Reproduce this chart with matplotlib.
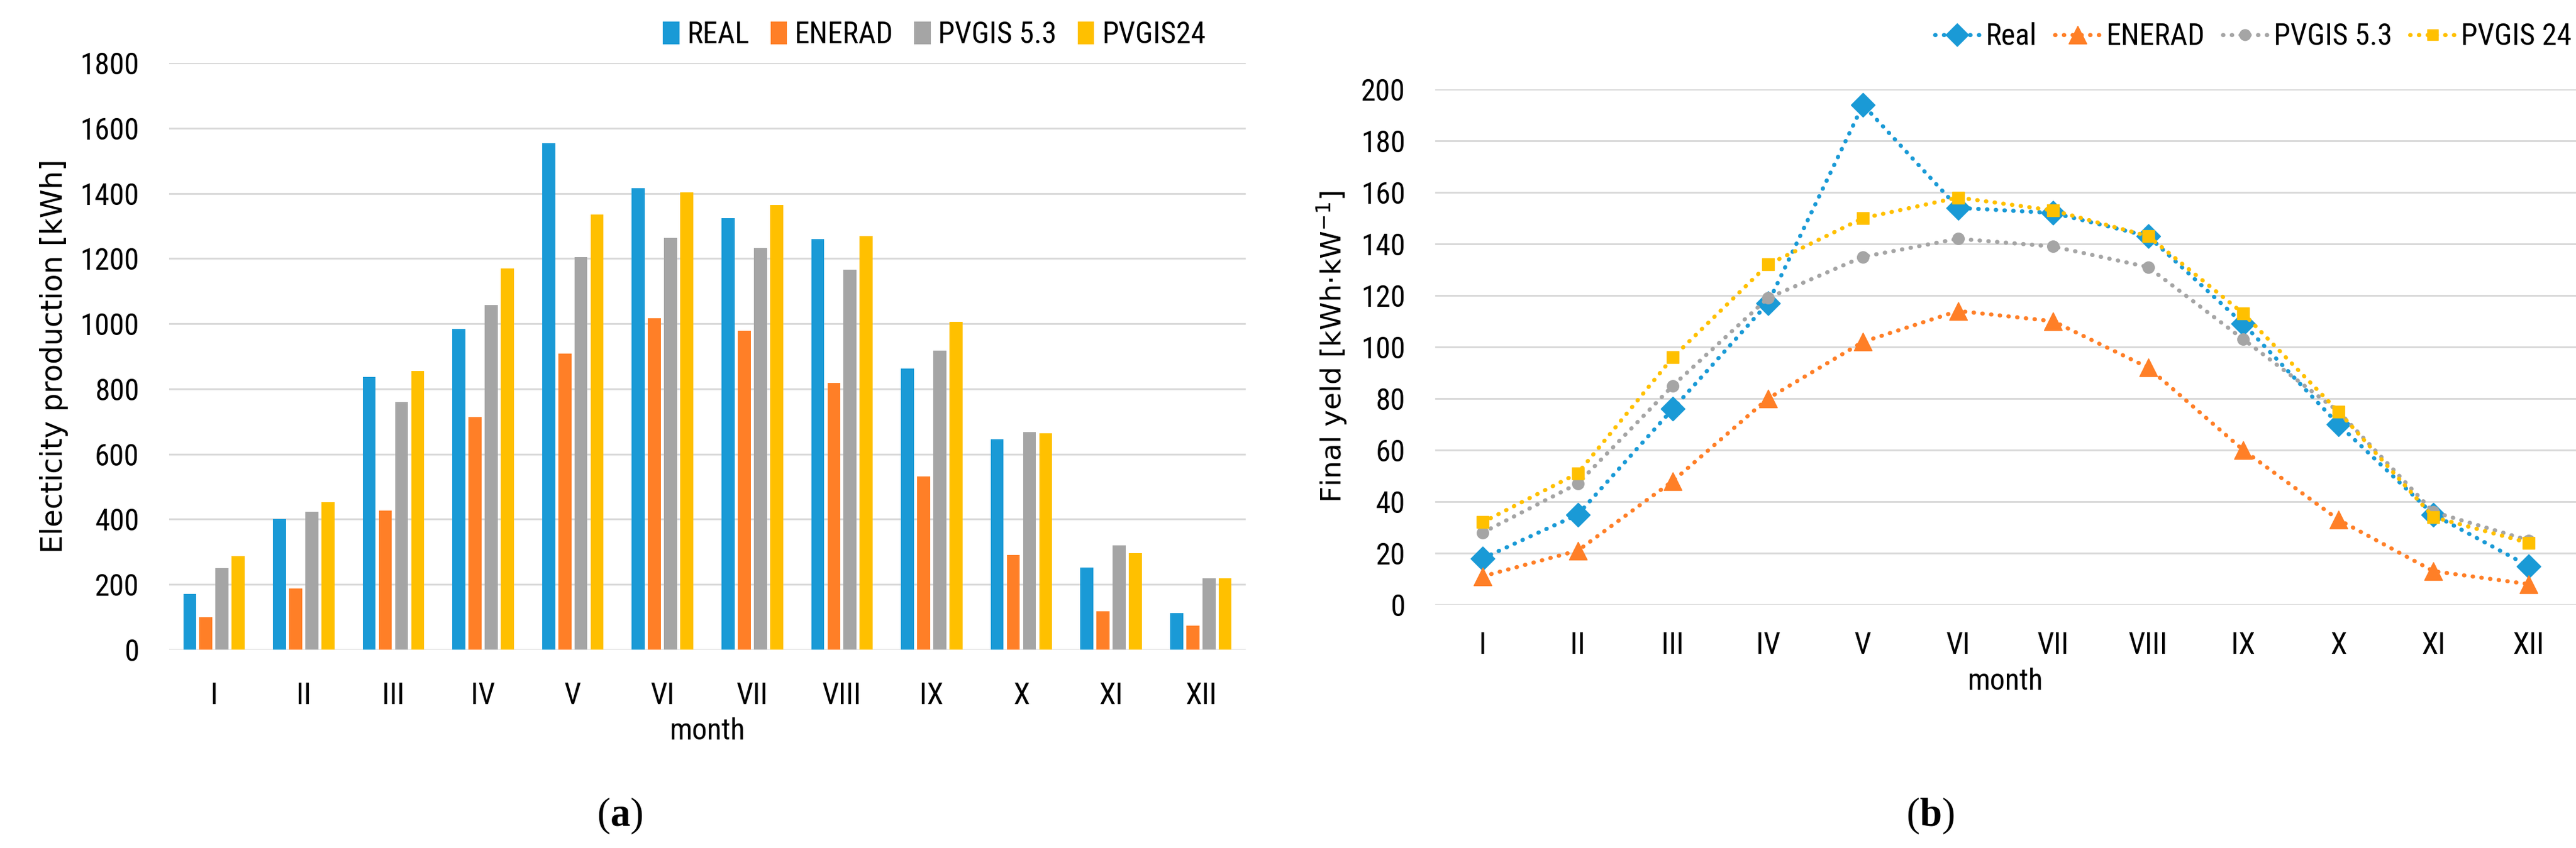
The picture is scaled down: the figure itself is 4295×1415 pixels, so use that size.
import numpy as np
import matplotlib
matplotlib.use('Agg')
import matplotlib.pyplot as plt
from matplotlib import font_manager

months = ['I', 'II', 'III', 'IV', 'V', 'VI', 'VII', 'VIII', 'IX', 'X', 'XI', 'XII']

# (a) electricity production [kWh]
prod_real = [171, 401, 836, 984, 1553, 1415, 1323, 1259, 863, 645, 252, 112]
prod_enerad = [99, 188, 426, 714, 908, 1017, 979, 819, 531, 290, 118, 74]
prod_pvgis53 = [250, 423, 759, 1058, 1204, 1264, 1232, 1165, 918, 668, 319, 218]
prod_pvgis24 = [287, 452, 855, 1170, 1335, 1402, 1365, 1268, 1006, 663, 296, 218]

# (b) final yield [kWh/kW]
yield_real = [18, 35, 76, 117, 194, 154, 152, 143, 109, 70, 35, 15]
yield_enerad = [11, 21, 48, 80, 102, 114, 110, 92, 60, 33, 13, 8]
yield_pvgis53 = [28, 47, 85, 119, 135, 142, 139, 131, 103, 75, 36, 25]
yield_pvgis24 = [32, 51, 96, 132, 150, 158, 153, 143, 113, 75, 34, 24]

BLUE = '#1A9AD6'
ORANGE = '#FF7F27'
GRAY = '#A5A5A5'
GOLD = '#FFC000'
GRID = '#D9D9D9'

# try a condensed face first (the original looks like squeezed Calibri)
names = set(f.name for f in font_manager.fontManager.ttflist)
NARROW = 'Liberation Sans'
for cand in ['Liberation Sans Narrow', 'Roboto Condensed', 'Open Sans Condensed',
             'DejaVu Sans Condensed', 'Noto Sans Condensed']:
    if cand in names:
        NARROW = cand
        break

plt.rcParams['font.family'] = [NARROW, 'DejaVu Sans']
plt.rcParams['mathtext.fontset'] = 'custom'
plt.rcParams['mathtext.rm'] = 'DejaVu Sans'
plt.rcParams['mathtext.bf'] = 'Liberation Serif:bold'

W, H = 4295, 1415
FS = 36
fig = plt.figure(figsize=(W / 100, H / 100), dpi=100)


def px_axes(x0, x1, y0, y1):
    return fig.add_axes([x0 / W, 1 - y1 / H, (x1 - x0) / W, (y1 - y0) / H])


def style(ax, ymax, step, xpad, ypad):
    ax.set_xlim(-0.5, 11.5)
    ax.set_ylim(0, ymax)
    ax.set_yticks(np.arange(0, ymax + 1, step))
    ax.set_xticks(range(12))
    ax.set_xticklabels(months)
    for s in ax.spines.values():
        s.set_visible(False)
    ax.tick_params(axis='both', length=0, labelsize=FS)
    ax.tick_params(axis='y', pad=ypad)
    ax.tick_params(axis='x', pad=xpad)
    ax.grid(axis='y', color=GRID, lw=2.2)
    ax.set_axisbelow(True)


# ---- (a) bar chart ----
ax1 = px_axes(282, 2077, 105, 1084)
x = np.arange(12)
step = 0.18
bw = 0.145
series_a = [(prod_real, BLUE, 'REAL'), (prod_enerad, ORANGE, 'ENERAD'),
            (prod_pvgis53, GRAY, 'PVGIS 5.3'), (prod_pvgis24, GOLD, 'PVGIS24')]
for i, (vals, col, lab) in enumerate(series_a):
    ax1.bar(x + (i - 1.5) * step, vals, width=bw, color=col, label=lab, zorder=3)
style(ax1, 1800, 200, 38, 36)
ax1.set_xlabel('month', fontsize=FS, labelpad=8)
ax1.set_ylabel('Electicity production [kWh]', fontsize=35, family='DejaVu Sans',
               labelpad=14)
ax1.legend(loc='center right', bbox_to_anchor=(2010 / W, 1 - 58 / H),
           bbox_transform=fig.transFigure, ncol=4, frameon=False, fontsize=FS,
           handlelength=0.55, handleheight=0.8, handletextpad=0.25,
           columnspacing=0.7, borderpad=0, borderaxespad=0)

# ---- (b) line chart ----
ax2 = px_axes(2393, 4295, 149, 1009)
dot = (0, (0.1, 2.0))
series_b = [(yield_real, BLUE, 'D', 20, 'Real'),
            (yield_enerad, ORANGE, '^', 22, 'ENERAD'),
            (yield_pvgis53, GRAY, 'o', 14, 'PVGIS 5.3'),
            (yield_pvgis24, GOLD, 's', 14, 'PVGIS 24')]
for vals, col, mk, ms, lab in series_b:
    ax2.plot(x, vals, color=col, lw=5, ls=dot, dash_capstyle='round',
             marker=mk, ms=ms, mec=col, mfc=col, label=lab, zorder=3)
style(ax2, 200, 20, 32, 36)
ax2.set_xlabel('month', fontsize=FS, labelpad=8)
ax2.set_ylabel('Final yeld [kWh·kW$^{-1}$]', fontsize=34, family='DejaVu Sans',
               labelpad=14)
ax2.legend(loc='center right', bbox_to_anchor=(4288 / W, 1 - 61 / H),
           bbox_transform=fig.transFigure, ncol=4, frameon=False, fontsize=FS,
           handlelength=1.5, handletextpad=0.2, columnspacing=0.6,
           markerscale=0.95, borderpad=0, borderaxespad=0)

fig.text(1033 / W, 1 - 1361 / H, r'($\mathbf{a}$)', ha='center', va='center',
         fontsize=48, family='Liberation Serif')
fig.text(3218 / W, 1 - 1361 / H, r'($\mathbf{b}$)', ha='center', va='center',
         fontsize=48, family='Liberation Serif')

fig.savefig('out.png', dpi=100, facecolor='white')
